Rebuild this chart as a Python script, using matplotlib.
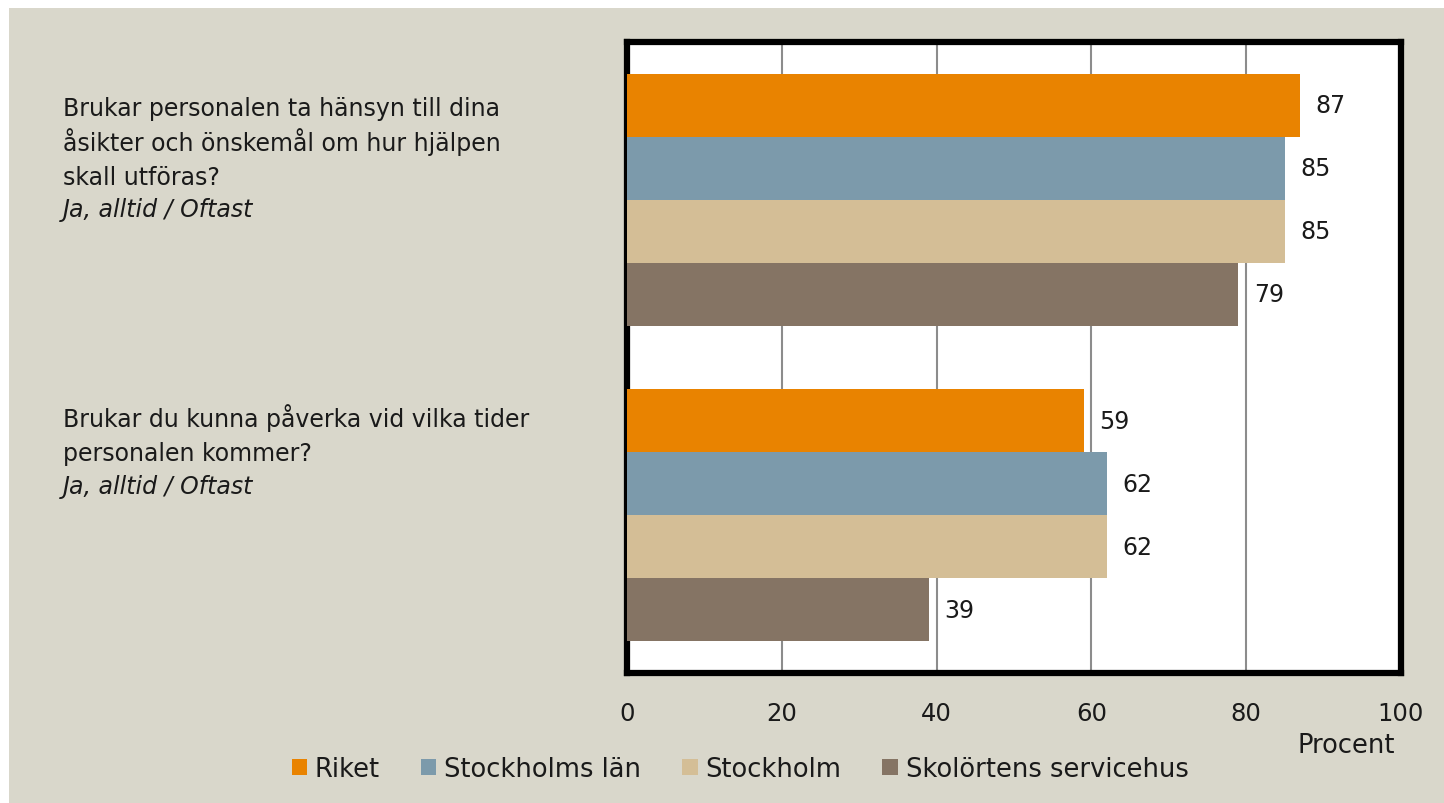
import numpy as np
import matplotlib.pyplot as plt
from matplotlib.patches import Rectangle, Patch

plt.rcParams['font.family'] = ['DejaVu Sans']

# data
fragor = [['Brukar personalen ta hänsyn till dina', 'åsikter och önskemål om hur hjälpen', 'skall utföras?'],
          ['Brukar du kunna påverka vid vilka tider', 'personalen kommer?']]
svar = 'Ja, alltid / Oftast'
serier = ['Riket', 'Stockholms län', 'Stockholm', 'Skolörtens servicehus']
varden = [[87, 59],
          [85, 62],
          [85, 62],
          [79, 39]]
farger = ['#E98300', '#7C9AAB', '#D4BE96', '#857464']
xticks = [0, 20, 40, 60, 80, 100]

W, H = 1444, 804
fs = 17
fs2 = 18.5
tc = '#1a1a1a'
fig = plt.figure(figsize=(W/100, H/100), dpi=100, facecolor='white')
bg = '#D9D7CB'
fig.patches.append(Rectangle((9/W, 0), 1, 1 - 9/H, transform=fig.transFigure,
                             facecolor=bg, edgecolor='none', zorder=-10))

# axes in pixels
L, R, T, B = 627, 1401, 43, 674
ax = fig.add_axes([L/W, 1 - B/H, (R-L)/W, (B-T)/H])
ax.set_facecolor('white')

n = len(serier)
h = 0.2
y0 = np.arange(len(fragor))
for i in range(n):
    ypos = y0 - 0.3 + i*h
    bars = ax.barh(ypos, varden[i], height=h, color=farger[i], zorder=3)
    for b, v in zip(bars, varden[i]):
        ax.annotate(str(v), (v, b.get_y() + h/2), xytext=(11, 0),
                    textcoords='offset points', va='center', ha='left',
                    fontsize=fs, color=tc)

ax.set_xlim(0, 100)
ax.set_ylim(1.5, -0.5)
ax.set_xticks(xticks)
ax.set_xticklabels([str(t) for t in xticks], fontsize=17.5, color=tc)
ax.tick_params(axis='x', length=0, pad=20)
ax.set_yticks([])
ax.xaxis.grid(True, color='#8C8C8C', linewidth=1.5, zorder=0)
ax.set_axisbelow(True)
for s in ax.spines.values():
    s.set_linewidth(4.5)
    s.set_color('black')

# question labels, one line at a time (baselines in pixels)
start = [116, 427]
step = 34.5
for rader, y in zip(fragor, start):
    for k, rad in enumerate(rader):
        fig.text(63/W, 1 - (y + k*step)/H, rad, ha='left', va='baseline',
                 fontsize=fs, color=tc)
    fig.text(63/W, 1 - (y + len(rader)*step - 2)/H, svar, ha='left', va='baseline',
             fontsize=fs, style='italic', color=tc)

fig.text(1395/W, 1 - 746/H, 'Procent', ha='right', va='center', fontsize=fs2,
         color=tc)

handles = [Patch(facecolor=c, edgecolor='none') for c in farger]
fig.legend(handles, serier, loc='center', bbox_to_anchor=(740/W, 1 - 770/H),
           ncol=4, frameon=False, fontsize=fs2, handlelength=0.6, handleheight=0.6,
           handletextpad=0.3, columnspacing=1.6, labelcolor=tc)

fig.savefig('out.png', dpi=100, facecolor='white')
